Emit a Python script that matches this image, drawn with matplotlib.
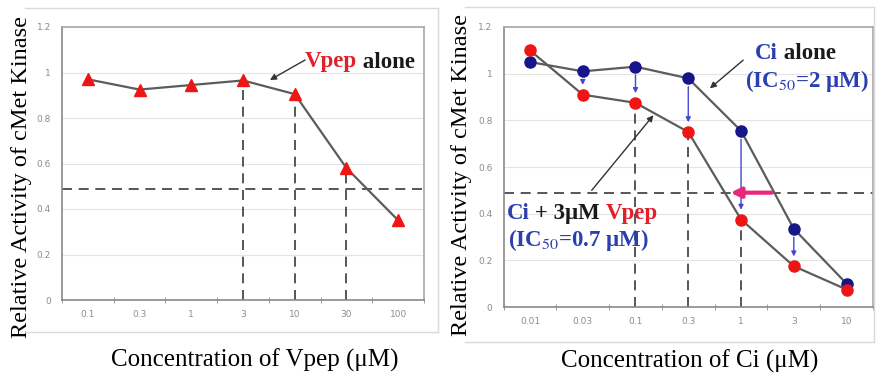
import matplotlib
matplotlib.use("Agg")
import matplotlib.pyplot as plt
from matplotlib.lines import Line2D

plt.rcParams['font.family'] = ['Liberation Serif', 'DejaVu Serif']
plt.rcParams['mathtext.fontset'] = 'stix'

# data
vpep_conc = ['0.1', '0.3', '1', '3', '10', '30', '100']
vpep_alone = [0.97, 0.925, 0.945, 0.965, 0.905, 0.58, 0.35]

ci_conc = ['0.01', '0.03', '0.1', '0.3', '1', '3', '10']
ci_alone = [1.05, 1.01, 1.03, 0.98, 0.755, 0.335, 0.10]
ci_plus_vpep = [1.10, 0.91, 0.875, 0.75, 0.375, 0.175, 0.075]

half_level = 0.49
y_ticks = [0, 0.2, 0.4, 0.6, 0.8, 1, 1.2]

RED = '#ee1515'
NAVY = '#16168a'
TXT_RED = '#e0202a'
TXT_BLUE = '#2c3fae'
LINE = '#5c5c5c'
DASH = '#3a3a3a'
ANN = 16.5


def style_axes(ax, labels, xlabel, xlab_pos, ylab_pos):
    n = len(labels)
    ax.set_xlim(-0.5, n - 0.5)
    ax.set_ylim(0, 1.2)
    ax.set_xticks(range(n))
    ax.set_xticklabels(labels)
    ax.set_xticks([i + 0.5 for i in range(-1, n)], minor=True)
    ax.set_yticks(y_ticks)
    ax.set_yticklabels(['0', '0.2', '0.4', '0.6', '0.8', '1', '1.2'])
    ax.tick_params(axis='x', which='major', length=0, pad=7,
                   labelsize=6.5, labelcolor='#8c8c8c')
    ax.tick_params(axis='x', which='minor', length=4, color='#8c8c8c',
                   direction='inout')
    ax.tick_params(axis='y', length=0, pad=8, labelsize=6.5,
                   labelcolor='#8c8c8c')
    for t in ax.get_xticklabels() + ax.get_yticklabels():
        t.set_family('DejaVu Sans')
    ax.grid(axis='y', color='#e4e4e4', lw=0.8)
    ax.set_axisbelow(True)
    for s in ['top', 'right']:
        ax.spines[s].set_color('#a8a8a8')
        ax.spines[s].set_linewidth(1.2)
    for s in ['left', 'bottom']:
        ax.spines[s].set_color('#8a8a8a')
        ax.spines[s].set_linewidth(1.2)
    ax.set_ylabel('Relative Activity of cMet Kinase', fontsize=17.5, va='center')
    ax.set_xlabel(xlabel, fontsize=18, va='center')
    ax.xaxis.set_label_coords(*xlab_pos)
    ax.yaxis.set_label_coords(*ylab_pos)


def colored_text(ax, x, y, pieces, fontsize=ANN):
    prev = None
    for text, color in pieces:
        if prev is None:
            prev = ax.text(x, y, text, color=color, fontsize=fontsize,
                           weight='bold', va='bottom', ha='left')
        else:
            prev = ax.annotate(text, xy=(1, 0), xycoords=prev, color=color,
                               fontsize=fontsize, weight='bold',
                               va='bottom', ha='left')
    return prev


def frame_lines(fig, x0, x1, y0, y1):
    # faint chart-area border (top, right, bottom), pixel coords
    W, H = 877.0, 375.0
    kw = dict(transform=fig.transFigure, color='#dadada', lw=1)
    fig.lines.append(Line2D([x0 / W, x1 / W], [1 - y0 / H] * 2, **kw))
    fig.lines.append(Line2D([x1 / W] * 2, [1 - y0 / H, 1 - y1 / H], **kw))
    fig.lines.append(Line2D([x0 / W, x1 / W], [1 - y1 / H] * 2, **kw))


fig = plt.figure(figsize=(8.77, 3.75), dpi=100)
frame_lines(fig, 25, 438, 8, 332)
frame_lines(fig, 465, 874, 7, 342)

# ---- left: Vpep alone
ax1 = fig.add_axes([0.0707, 0.20, 0.4128, 0.728])
style_axes(ax1, vpep_conc, 'Concentration of Vpep (μM)',
           (0.533, -0.22), (-0.112, 0.449))
x1 = list(range(len(vpep_conc)))
ax1.axhline(half_level, color=DASH, lw=1.2, ls=(0, (6, 4)), zorder=1)
for i in [3, 4, 5]:
    ax1.plot([i, i], [0, vpep_alone[i]], color=DASH, lw=1.2, ls=(0, (6, 4)), zorder=1)
ax1.plot(x1, vpep_alone, color=LINE, lw=1.6, marker='^', ms=9,
         mfc=RED, mec=RED, zorder=3)
colored_text(ax1, 4.2, 1.0, [('Vpep', TXT_RED), (' alone', '#1a1a1a')])
ax1.annotate('', xy=(3.52, 0.967), xytext=(4.2, 1.055),
             arrowprops=dict(arrowstyle='-|>', color='#333333', lw=1,
                             mutation_scale=9, shrinkA=0, shrinkB=0))

# ---- right: Ci alone vs Ci + Vpep
ax2 = fig.add_axes([0.5742, 0.1813, 0.4212, 0.7467])
style_axes(ax2, ci_conc, 'Concentration of Ci (μM)',
           (0.505, -0.193), (-0.114, 0.471))
x2 = list(range(len(ci_conc)))
ax2.axhline(half_level, color=DASH, lw=1.2, ls=(0, (6, 4)), zorder=1)
for i in [2, 3, 4]:
    ax2.plot([i, i], [0, ci_plus_vpep[i]], color=DASH, lw=1.2, ls=(0, (6, 4)), zorder=1)
ax2.plot(x2, ci_alone, color=LINE, lw=1.6, marker='o', ms=8,
         mfc=NAVY, mec=NAVY, zorder=3)
ax2.plot(x2, ci_plus_vpep, color=LINE, lw=1.6, marker='o', ms=8,
         mfc=RED, mec=RED, zorder=4)
for i in range(1, 6):
    ax2.annotate('', xy=(i, ci_plus_vpep[i]), xytext=(i, ci_alone[i]),
                 arrowprops=dict(arrowstyle='-|>', color='#4646d4', lw=1,
                                 mutation_scale=7, shrinkA=6, shrinkB=7),
                 zorder=5)
ax2.annotate('', xy=(3.8, half_level), xytext=(4.58, half_level),
             arrowprops=dict(arrowstyle='-|>', color='#e8287c', lw=3,
                             mutation_scale=15, shrinkA=0, shrinkB=0),
             zorder=6)

colored_text(ax2, 4.26, 1.04, [('Ci', TXT_BLUE), (' alone', '#1a1a1a')])
ax2.text(4.07, 0.915, '(IC$_{50}$=2 μM)', color=TXT_BLUE, fontsize=ANN,
         weight='bold', va='bottom', ha='left')
ax2.annotate('', xy=(3.41, 0.937), xytext=(4.04, 1.058),
             arrowprops=dict(arrowstyle='-|>', color='#333333', lw=1,
                             mutation_scale=9, shrinkA=0, shrinkB=0))

colored_text(ax2, -0.44, 0.355, [('Ci', TXT_BLUE), (' + 3μM ', '#1a1a1a'),
                                 ('Vpep', TXT_RED)])
ax2.text(-0.41, 0.23, '(IC$_{50}$=0.7 μM)', color=TXT_BLUE, fontsize=ANN,
         weight='bold', va='bottom', ha='left')
ax2.annotate('', xy=(2.34, 0.822), xytext=(1.17, 0.50),
             arrowprops=dict(arrowstyle='-|>', color='#333333', lw=1,
                             mutation_scale=9, shrinkA=0, shrinkB=0))

fig.savefig('out.png', dpi=100)
